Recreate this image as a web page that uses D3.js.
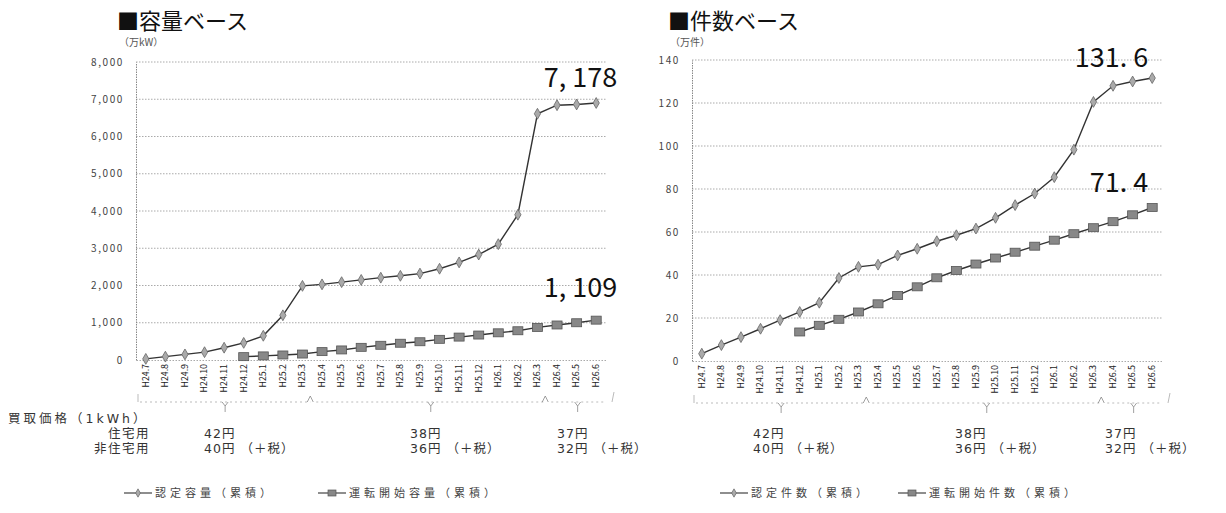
<!DOCTYPE html>
<html><head><meta charset="utf-8">
<script src="https://cdn.jsdelivr.net/npm/d3@7"></script>
<style>
body{margin:0;background:#fff;}
svg{display:block;}
text{font-family:"Noto Sans CJK JP","Noto Sans",sans-serif;}
.jp{font-family:"DejaVu Sans","Noto Sans CJK JP",sans-serif;}
</style></head>
<body>
<svg id="c" width="1226" height="513"></svg>
<script>
const months = ["H24.7","H24.8","H24.9","H24.10","H24.11","H24.12","H25.1","H25.2","H25.3","H25.4","H25.5","H25.6","H25.7","H25.8","H25.9","H25.10","H25.11","H25.12","H26.1","H26.2","H26.3","H26.4","H26.5","H26.6"];
const capacityCert = [30,90,150,210,330,460,650,1200,1990,2030,2090,2150,2210,2260,2320,2450,2620,2830,3110,3900,6610,6840,6860,6900];
const capacityOp = [null,null,null,null,null,90,110,135,160,225,270,340,395,450,490,555,615,670,730,785,875,940,1000,1070];
const countCert = [3.4,7.4,11.1,15.0,19.0,22.8,27.1,38.6,43.8,44.8,49.1,52.2,55.7,58.5,61.6,66.6,72.5,77.9,85.5,98.3,120.5,128,130,131.6];
const countOp = [null,null,null,null,null,13.5,16.6,19.4,22.8,26.6,30.5,34.5,38.7,42.1,45.1,47.9,50.6,53.4,56.2,59.2,62.0,64.8,68.0,71.4];
const capacityTicks = [0,1000,2000,3000,4000,5000,6000,7000,8000];
const countTicks = [0,20,40,60,80,100,120,140];
const priceGroups = [["H24.7","H25.3"],["H25.4","H26.3"],["H26.4","H26.6"]];
const priceHeader = "買取価格（1kWh）";
const priceRowLabels = ["住宅用","非住宅用"];
const priceResidential = ["42円","38円","37円"];
const priceNonResidential = ["40円 （＋税）","36円 （＋税）","32円 （＋税）"];

const svg = d3.select("#c");

function chart(opt){
  const g = svg.append("g");
  const x = d3.scaleBand().domain(months).range([opt.x0, opt.x0+470]);
  const y = d3.scaleLinear().domain(opt.domain).range([opt.yb, opt.yt]);
  const cx = m => x(m)+x.bandwidth()/2;
  // title
  g.append("text").attr("x",opt.tx).attr("y",29).attr("font-size",22).attr("fill","#111").text(opt.title);
  g.append("text").attr("x",opt.tx+2).attr("y",46).attr("font-size",10).attr("fill","#555").text(opt.unit);
  // gridlines
  g.selectAll(".gl").data(opt.ticks.slice(1)).enter().append("line")
    .attr("x1",opt.x0).attr("x2",opt.x0+470).attr("y1",d=>y(d)).attr("y2",d=>y(d))
    .attr("stroke","#aaa").attr("stroke-dasharray","1.5,1.5").attr("stroke-width",1);
  // axes
  const ya = d3.axisLeft(y).tickValues(opt.ticks).tickSize(0).tickPadding(12).tickFormat(opt.fmt);
  const yg = g.append("g").attr("transform",`translate(${opt.x0},0)`).call(ya);
  yg.select(".domain").attr("stroke","#888").attr("stroke-dasharray","1.5,1");
  yg.selectAll("text").attr("font-family","DejaVu Serif, serif").attr("font-size",10).attr("letter-spacing","1.6px").attr("fill","#444");
  const xa = d3.axisBottom(x).tickSize(0).tickPadding(0);
  const xg = g.append("g").attr("transform",`translate(0,${opt.yb})`).call(xa);
  xg.select(".domain").attr("stroke","#aaa").attr("stroke-dasharray","1.5,1.5");
  xg.selectAll("text").attr("font-family","DejaVu Sans Condensed, DejaVu Sans, sans-serif").attr("font-size",8.8).attr("fill","#222")
    .attr("transform","rotate(-90)").attr("text-anchor","end").attr("dx","-4").attr("dy","0.32em").attr("x",0).attr("y",0);
  // braces
  const by = opt.yb+42;
  priceGroups.forEach((grp,i)=>{
    const a = x(grp[0])+4, b = x(grp[1])+x.bandwidth()-2, m=(a+b)/2;
    g.append("line").attr("x1",a).attr("x2",b).attr("y1",by).attr("y2",by).attr("stroke","#bbb").attr("stroke-dasharray","2,3");
    g.append("path").attr("d",`M${m-3},${by}L${m},${by+4}L${m+3},${by}M${m},${by+4}V${by+10}`).attr("fill","none").attr("stroke","#888").attr("stroke-width",0.8);
    if(i<priceGroups.length-1){
      g.append("path").attr("d",`M${b-3},${by}L${b},${by-6}L${b+3},${by}`).attr("fill","none").attr("stroke","#888").attr("stroke-width",0.8);
    }
  });
  g.append("path").attr("d",`M${x(months[0])+2},${by}V${by-8}`).attr("stroke","#aaa").attr("stroke-width",0.8);
  g.append("path").attr("d",`M${opt.x0+476},${by}L${opt.x0+478},${by-10}`).attr("stroke","#aaa").attr("stroke-width",0.8);
  // lines
  const line = d3.line().defined(d=>d.v!=null).x(d=>cx(d.m)).y(d=>y(d.v));
  const s1 = months.map((m,i)=>({m,v:opt.s1[i]}));
  const s2 = months.map((m,i)=>({m,v:opt.s2[i]}));
  g.append("path").datum(s1).attr("d",line).attr("fill","none").attr("stroke","#333").attr("stroke-width",1.4);
  g.append("path").datum(s2).attr("d",line).attr("fill","none").attr("stroke","#333").attr("stroke-width",1.4);
  g.selectAll(".dm").data(s1).enter().append("path")
    .attr("d",d3.symbol().type(d3.symbolDiamond).size(34))
    .attr("transform",d=>`translate(${cx(d.m)},${y(d.v)})`).attr("fill","#aaa").attr("stroke","#666").attr("stroke-width",0.8);
  g.selectAll(".sq").data(s2.filter(d=>d.v!=null)).enter().append("rect")
    .attr("x",d=>cx(d.m)-5).attr("y",d=>y(d.v)-4).attr("width",10).attr("height",8)
    .attr("fill","#888").attr("stroke","#555").attr("stroke-width",0.8);
  // end labels
  const last = months[months.length-1];
  [[opt.s1,opt.l1,opt.dy1],[opt.s2,opt.l2,opt.dy2]].forEach(([s,l,dy])=>{
    g.append("text").attr("x",cx(last)+opt.lx).attr("y",y(s[s.length-1])+dy)
      .attr("text-anchor","end").attr("font-family","DejaVu Sans Condensed, sans-serif")
      .attr("font-size",27).attr("fill","#111").attr("style","white-space:pre").text(l);
  });
  // price text
  const ry1 = 438, ry2 = 453;
  opt.px.forEach((px,i)=>{
    g.append("text").attr("class","jp").attr("x",px).attr("y",ry1).attr("font-size",12.5).attr("letter-spacing","1px").attr("fill","#333").text(priceResidential[i]);
    g.append("text").attr("class","jp").attr("x",px).attr("y",ry2).attr("font-size",12.5).attr("letter-spacing","1px").attr("fill","#333").text(priceNonResidential[i]);
  });
  // legend
  const ly = 493;
  opt.leg.forEach((lg,i)=>{
    g.append("line").attr("x1",lg[0]).attr("x2",lg[0]+28).attr("y1",ly).attr("y2",ly).attr("stroke","#444").attr("stroke-width",1.2);
    if(i==0){
      g.append("path").attr("d",d3.symbol().type(d3.symbolDiamond).size(20)).attr("transform",`translate(${lg[0]+14},${ly})`).attr("fill","#aaa").attr("stroke","#666").attr("stroke-width",0.7);
    } else {
      g.append("rect").attr("x",lg[0]+10).attr("y",ly-3).attr("width",8).attr("height",6).attr("fill","#888").attr("stroke","#555").attr("stroke-width",0.7);
    }
    g.append("text").attr("class","jp").attr("x",lg[0]+31).attr("y",ly+4).attr("font-size",11).attr("letter-spacing","4px").attr("fill","#444").text(lg[1]);
  });
  return g;
}

chart({x0:136, yb:360, yt:62, domain:[0,8000], ticks:capacityTicks, fmt:d3.format(","),
  title:"■容量ベース", unit:"（万kW）", tx:117,
  s1:capacityCert, s2:capacityOp, l1:"7, 178", l2:"1, 109", dy1:-16, dy2:-23, lx:21,
  px:[204,410,557],
  leg:[[124,"認定容量（累積）"],[318,"運転開始容量（累積）"]]});
chart({x0:692, yb:361, yt:60, domain:[0,140], ticks:countTicks, fmt:d3.format("d"),
  title:"■件数ベース", unit:"（万件）", tx:668,
  s1:countCert, s2:countOp, l1:"131. 6", l2:"71. 4", dy1:-11, dy2:-15, lx:-4,
  px:[753,955,1105],
  leg:[[720,"認定件数（累積）"],[898,"運転開始件数（累積）"]]});

// price header
svg.append("text").attr("class","jp").attr("x",8).attr("y",423).attr("font-size",12.5).attr("letter-spacing","3px").attr("fill","#333").text(priceHeader);
svg.append("text").attr("class","jp").attr("x",150).attr("y",438).attr("text-anchor","end").attr("font-size",12.5).attr("letter-spacing","1.5px").attr("fill","#333").text(priceRowLabels[0]);
svg.append("text").attr("class","jp").attr("x",150).attr("y",453).attr("text-anchor","end").attr("font-size",12.5).attr("letter-spacing","1.5px").attr("fill","#333").text(priceRowLabels[1]);
</script>
</body></html>
